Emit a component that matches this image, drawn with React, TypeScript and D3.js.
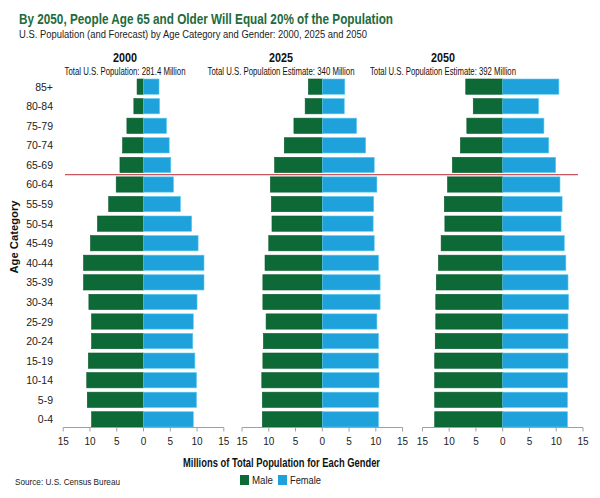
import React from "react";
import * as d3 from "d3";

const ages = ["85+","80-84","75-79","70-74","65-69","60-64","55-59","50-54","45-49","40-44","35-39","30-34","25-29","20-24","15-19","10-14","5-9","0-4"];
const years = ["2000","2025","2050"];
const panelSubtitles = ["Total U.S. Population: 281.4 Million","Total U.S. Population Estimate: 340 Million","Total U.S. Population Estimate: 392 Million"];
const male2000 = [1.2,1.8,3.1,3.9,4.4,5.1,6.5,8.6,9.9,11.2,11.2,10.2,9.7,9.7,10.3,10.6,10.5,9.7];
const female2000 = [2.9,3.0,4.3,4.8,5.1,5.6,6.9,9.0,10.2,11.3,11.3,10.0,9.3,9.2,9.6,9.9,9.9,9.3];
const male2025 = [2.6,3.2,5.3,7.1,8.9,9.7,9.5,9.4,10.0,10.7,11.1,11.1,10.5,11.0,11.1,11.3,11.2,11.2];
const female2025 = [4.2,4.1,6.4,8.1,9.7,10.2,9.6,9.5,9.7,10.5,10.8,10.8,10.2,10.5,10.5,10.6,10.5,10.5];
const male2050 = [6.9,5.5,6.7,7.9,9.4,10.3,10.9,10.8,11.5,12.0,12.4,12.5,12.5,12.6,12.7,12.7,12.7,12.7];
const female2050 = [10.5,6.7,7.7,8.6,9.9,10.7,11.1,10.9,11.5,11.8,12.2,12.3,12.2,12.2,12.2,12.1,12.1,12.1];
const tickValues = [-15,-10,-5,0,5,10,15];

const maleSeries = [male2000, male2025, male2050];
const femaleSeries = [female2000, female2025, female2050];

const MALE = "#0d6a36";
const FEMALE = "#1fa2dc";
const GREEN_TITLE = "#1e6b3c";
const FONT = "'Liberation Sans', Arial, sans-serif";

type CTProps = {
  x: number; y: number; width: number; sx: number; size: number; bold?: boolean;
  anchor?: "start" | "middle" | "end"; fill?: string; rotate?: number; children: string;
};

function CondText({ x, y, width, sx, size, bold, anchor = "start", fill = "#111", rotate = 0, children }: CTProps) {
  return (
    <g transform={`translate(${x},${y}) rotate(${rotate}) scale(${sx},1)`}>
      <text x={0} y={0} fontSize={size} fontWeight={bold ? "bold" : "normal"} textAnchor={anchor} fill={fill}
        textLength={width / sx} lengthAdjust="spacingAndGlyphs">{children}</text>
    </g>
  );
}

export default function App() {
  const centers = [143.5, 322.3, 502.7];
  const half = 80.3;
  const headCenters = [125, 281, 443];
  const subLens = [121, 147, 146];
  const y = d3.scaleBand<string>().domain(ages).range([79, 427]).paddingInner(0.22).paddingOuter(0);
  const axisY = 427.5;
  const lineY = ((y("65-69") as number) + y.bandwidth() + (y("60-64") as number)) / 2;

  return (
    <svg width={600} height={498} style={{ position: "absolute", left: 0, top: 0, background: "#fff" }} fontFamily={FONT}>
      <rect x={0} y={0} width={600} height={498} fill="#fff" />
      <CondText x={19} y={24} width={374} sx={0.82} size={15} bold fill={GREEN_TITLE}>
        By 2050, People Age 65 and Older Will Equal 20% of the Population
      </CondText>
      <CondText x={19} y={38} width={348} sx={0.8} size={11.5} fill="#222">
        U.S. Population (and Forecast) by Age Category and Gender: 2000, 2025 and 2050
      </CondText>

      {years.map((yr, i) => (
        <g key={yr}>
          <CondText x={headCenters[i]} y={62} width={24} sx={0.85} size={12} bold anchor="middle">{yr}</CondText>
          <CondText x={headCenters[i]} y={75} width={subLens[i]} sx={0.75} size={10} anchor="middle">{panelSubtitles[i]}</CondText>
        </g>
      ))}

      {ages.map((a) => (
        <text key={a} x={53} y={(y(a) as number) + y.bandwidth() / 2 + 4} fontSize={10.5} textAnchor="end" fill="#222">{a}</text>
      ))}
      <CondText x={18} y={237} width={73} sx={0.85} size={11.5} bold anchor="middle" rotate={-90}>Age Category</CondText>

      {years.map((yr, i) => {
        const x = d3.scaleLinear().domain([-15, 15]).range([centers[i] - half, centers[i] + half]);
        const m = maleSeries[i];
        const f = femaleSeries[i];
        return (
          <g key={"p" + yr}>
            {ages.map((a, j) => (
              <g key={a}>
                <rect x={x(-m[j])} y={y(a)} width={x(0) - x(-m[j])} height={y.bandwidth()} fill={MALE} stroke="#0a5a2c" strokeWidth={0.6} />
                <rect x={x(0)} y={y(a)} width={x(f[j]) - x(0)} height={y.bandwidth()} fill={FEMALE} stroke="#5ccbef" strokeWidth={0.6} />
              </g>
            ))}
            <line x1={x(-15)} x2={x(15)} y1={axisY} y2={axisY} stroke="#a0a0a0" strokeWidth={1} />
            {tickValues.map((t) => (
              <g key={t}>
                <line x1={x(t)} x2={x(t)} y1={axisY} y2={axisY + 4} stroke="#a0a0a0" strokeWidth={1} />
                <text x={x(t)} y={445} fontSize={10} textAnchor="middle" fill="#222">{Math.abs(t)}</text>
              </g>
            ))}
          </g>
        );
      })}

      <line x1={65} x2={578} y1={lineY} y2={lineY} stroke="#c9565c" strokeWidth={1.3} />

      <CondText x={281.5} y={467} width={197} sx={0.82} size={12} bold anchor="middle">Millions of Total Population for Each Gender</CondText>
      <rect x={240} y={475} width={9} height={10} fill={MALE} />
      <CondText x={252} y={484} width={21} sx={0.85} size={11} fill="#222">Male</CondText>
      <rect x={278} y={475} width={9} height={10} fill={FEMALE} />
      <CondText x={290} y={484} width={31} sx={0.85} size={11} fill="#222">Female</CondText>
      <CondText x={15} y={485} width={105} sx={0.85} size={9} fill="#222">Source: U.S. Census Bureau</CondText>
    </svg>
  );
}
